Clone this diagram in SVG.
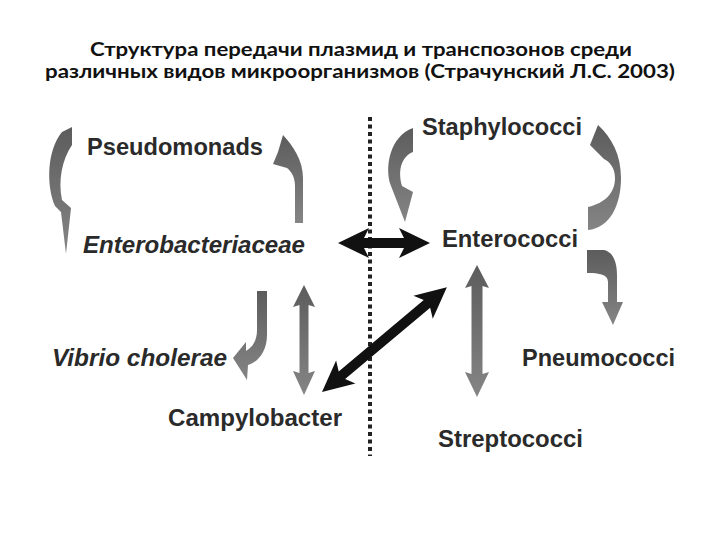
<svg xmlns="http://www.w3.org/2000/svg" width="720" height="540" viewBox="0 0 720 540">
<style>
.title{font-family:Lato,"Open Sans","DejaVu Sans",sans-serif;font-weight:bold;font-size:18px;fill:#111;}
.lbl{font-family:"Liberation Sans",Arial,sans-serif;font-weight:bold;font-size:24px;fill:#2a2a2a;}
.it{font-style:italic;}
.ga{fill:url(#g);}
.ba{fill:#111;}
</style>
<defs>
<linearGradient id="g" x1="0" y1="0" x2="0" y2="1">
<stop offset="0" stop-color="#5c5c5c"/>
<stop offset="1" stop-color="#858585"/>
</linearGradient>
</defs>
<rect width="720" height="540" fill="#fff"/>
<g id="title">
<text class="title" x="361" y="56" text-anchor="middle" textLength="542" lengthAdjust="spacingAndGlyphs">Структура передачи плазмид и транспозонов среди</text>
<text class="title" x="360" y="78" text-anchor="middle" textLength="630" lengthAdjust="spacingAndGlyphs">различных видов микроорганизмов (Страчунский Л.С. 2003)</text>
</g>
<g id="divider">
<line x1="370" y1="117" x2="370" y2="456" stroke="#222" stroke-width="4" stroke-dasharray="4 3.5"/>
</g>
<g id="connectors">
<path class="ga" d="M72,127 L72,145 C62,160 58,180 62,200 L71,208 L66,254 L61,212 L55,206 C46,185 47,150 62,132 Z"/>
<path class="ga" d="M295,223 L303,223 L303,178 C303,160 293,146 283,135 L278,152 L273,164 L287,168 C292,172 295,178 295,186 Z"/>
<path class="ga" d="M413,128 L413,152 C403,156 397,168 402,186 L413,192 L405,222 L391,186 C384,168 390,136 413,128 Z"/>
<path class="ga" d="M588,230 L588,207 C605,203 615,193 615,178 C615,168 610,162 604,159 L590,145 L598,125 C612,138 621,155 621,178 C621,205 610,228 588,230 Z"/>
<path class="ga" d="M587,250 L604,250 C613,252 617,262 617,275 L617,302 L623,302 L613,325 L602,302 L608,302 L608,282 C608,276 603,273 587,273 Z"/>
<path class="ga" d="M257,291 L267,291 L267,335 C267,350 259,362 248,365 L247,380 L233,358 L246,342 L246,351 C253,347 257,340 257,330 Z"/>
<path class="ga" d="M304,285 L315,307 L308.5,305 L308.5,373 L315,371 L304,395 L293,371 L299.5,373 L299.5,305 L293,307 Z"/>
<path class="ga" d="M477,265 L489,288 L482.5,286 L482.5,374 L489,372 L477,397 L465,372 L471.5,374 L471.5,286 L465,288 Z"/>
<path class="ba" d="M338,243 L369,228 L364,238 L404,238 L399,228 L430,243 L399,258 L404,248 L364,248 L369,258 Z"/>
<path class="ba" transform="translate(322,392) rotate(-40)" d="M0,0 L31,-15 L26,-5 L137,-5 L132,-15 L163,0 L132,15 L137,5 L26,5 L31,15 Z"/>
</g>
<g id="node-pseudomonads"><text class="lbl" x="87" y="155" textLength="176" lengthAdjust="spacingAndGlyphs">Pseudomonads</text></g>
<g id="node-enterobacteriaceae"><text class="lbl it" x="83" y="253" textLength="222" lengthAdjust="spacingAndGlyphs">Enterobacteriaceae</text></g>
<g id="node-staphylococci"><text class="lbl" x="422" y="135" textLength="160" lengthAdjust="spacingAndGlyphs">Staphylococci</text></g>
<g id="node-enterococci"><text class="lbl" x="442" y="247" textLength="136" lengthAdjust="spacingAndGlyphs">Enterococci</text></g>
<g id="node-vibrio"><text class="lbl it" x="52" y="366" textLength="175" lengthAdjust="spacingAndGlyphs">Vibrio cholerae</text></g>
<g id="node-campylobacter"><text class="lbl" x="168" y="426" textLength="174" lengthAdjust="spacingAndGlyphs">Campylobacter</text></g>
<g id="node-pneumococci"><text class="lbl" x="522" y="366" textLength="153" lengthAdjust="spacingAndGlyphs">Pneumococci</text></g>
<g id="node-streptococci"><text class="lbl" x="438" y="447" textLength="145" lengthAdjust="spacingAndGlyphs">Streptococci</text></g>
</svg>
